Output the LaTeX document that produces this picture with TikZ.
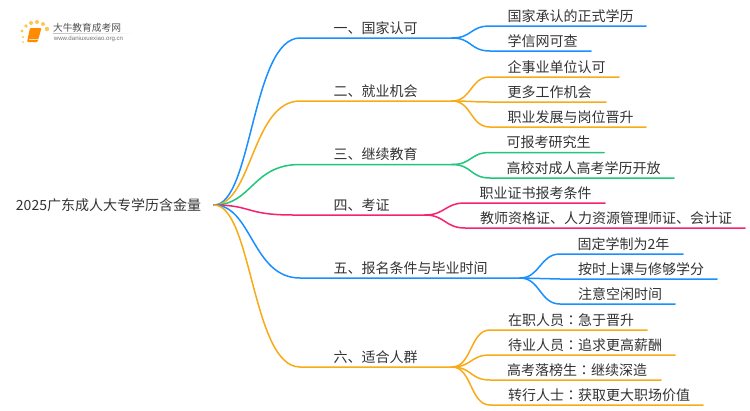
\documentclass[tikz,border=0pt]{standalone}
\usepackage{fontspec}
\setmainfont{Noto Sans CJK SC}
\newfontfamily\latinf{Liberation Sans}
\newfontfamily\tcf{Noto Sans CJK TC}
\usetikzlibrary{fadings}
\definecolor{cblue}{HTML}{1890FF}
\definecolor{corange}{HTML}{F8AB17}
\definecolor{cgreen}{HTML}{1FC67C}
\definecolor{cpink}{HTML}{F5226F}
\definecolor{ctext}{HTML}{333333}
\newcommand{\colonc}{{\tcf ：}}
\tikzset{
  lab/.style={inner sep=0pt,outer sep=0pt,minimum height=20pt,text=ctext,font=\fontsize{14}{16}\selectfont,anchor=south,align=left},
  wire/.style={line width=1.5pt,line cap=round}
}
% name, parent, x start, x end, y, colour, text left, text
\newcommand{\mybranch}[8]{%
  \node[lab,text width={(#4-#3)*1pt}] (#1) at ({(#3+#4)/2},#5-0) {\hspace*{\dimexpr #7pt-#3pt\relax}\raisebox{-.7pt}{#8}};
  \draw[wire,#6] (#2) .. controls +(38,0) and +(-48,0) .. (#1.south west) -- (#1.south east);
}
\newcommand{\mykid}[8]{%
  \node[lab,text width={(#4-#3)*1pt}] (#1) at ({(#3+#4)/2},#5) {\hspace*{\dimexpr #7pt-#3pt\relax}#8};
  \draw[wire,#6] (#2.south east) .. controls +(20,0) and +(-20,0) .. (#1.south west) -- (#1.south east);
}
\begin{document}
\begin{tikzpicture}[x=1pt,y=-1pt]
\useasboundingbox (0,0) rectangle (750,410);
\fill[white] (0,0) rectangle (750,410);
% logo
\foreach \px/\py/\pr in {22/31/1.6,26/26/1.8,31/23/2,37/22/2,43/24/2,47/29/2.2,23/37/1.1,23/42/1}
  \fill[corange!85!yellow,opacity=.75] (\px,\py) circle (\pr);
\fill[orange!90!yellow,rounded corners=1pt] (30,28) -- (41.5,28) -- (37.5,42) -- (27,42) -- cycle;
\draw[white!70!orange,line width=.6pt] (29,39.5) -- (37.5,39.5);
\fill[gray!50,path fading=east] (53,32.8) rectangle (133,33.4);
\node[inner sep=0pt,text=ctext!85,font=\fontsize{9.7}{11}\selectfont] (logot) at (87,27.5) {大牛教育成考网};
\node[inner sep=0pt,text=black!55,font=\latinf\fontsize{6.1}{7}\selectfont] (logou) at (88.5,39) {www.daniuxuexiao.org.cn};
% root
\node[inner sep=0pt,outer sep=0pt,minimum width=211pt,text=ctext,font=\fontsize{14}{16}\selectfont] (root) at (108.5,205) {2025广东成人大专学历含金量};
\coordinate (r) at (214,205);
% level 1
\mybranch{a}{r}{300}{452}{38}{cblue}{333.5}{一、国家认可}
\mybranch{b}{r}{300}{452}{101}{corange}{333.5}{二、就业机会}
\mybranch{c}{r}{300}{452}{164.5}{cgreen}{333.5}{三、继续教育}
\mybranch{d}{r}{293}{425}{215}{cpink}{333.5}{四、考证}
\mybranch{e}{r}{300}{520}{278}{cblue}{333.5}{五、报名条件与毕业时间}
\mybranch{f}{r}{300}{452}{367}{corange}{333.5}{六、适合人群}
% level 2
\mykid{a1}{a}{490}{646}{26}{cblue}{507.5}{国家承认的正式学历}
\mykid{a2}{a}{490}{591}{51}{cblue}{507.5}{学信网可查}
\mykid{b1}{b}{490}{619}{77}{corange}{507.5}{企事业单位认可}
\mykid{b2}{b}{490}{606}{102}{corange}{507.5}{更多工作机会}
\mykid{b3}{b}{490}{646}{127}{corange}{507.5}{职业发展与岗位晋升}
\mykid{c1}{c}{490}{604}{152.5}{cgreen}{506.5}{可报考研究生}
\mykid{c2}{c}{490}{674}{178}{cgreen}{506.5}{高校对成人高考学历开放}
\mykid{d1}{d}{465}{605}{203}{cpink}{479.5}{职业证书报考条件}
\mykid{d2}{d}{465}{745}{228}{cpink}{480}{教师资格证、人力资源管理师证、会计证}
\mykid{e1}{e}{560}{683}{254}{cblue}{577.5}{固定学制为2年}
\mykid{e2}{e}{560}{717}{279}{cblue}{578}{按时上课与修够学分}
\mykid{e3}{e}{560}{675}{304}{cblue}{578}{注意空闲时间}
\mykid{f1}{f}{490}{647}{330}{corange}{508}{在职人员\colonc 急于晋升}
\mykid{f2}{f}{490}{675}{355}{corange}{508}{待业人员\colonc 追求更高薪酬}
\mykid{f3}{f}{490}{661}{380}{corange}{507}{高考落榜生\colonc 继续深造}
\mykid{f4}{f}{490}{703}{405}{corange}{508}{转行人士\colonc 获取更大职场价值}
\end{tikzpicture}
\end{document}
